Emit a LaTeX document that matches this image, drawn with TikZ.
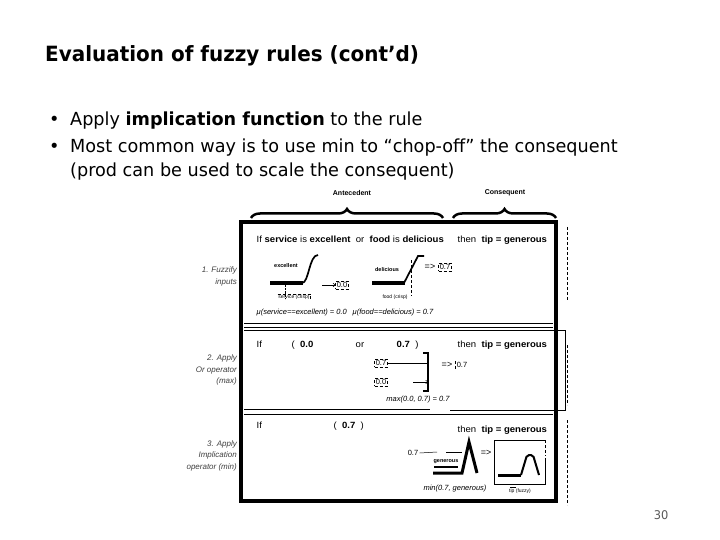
\documentclass[tikz,border=0pt]{standalone}
\usepackage{fontspec}
\setmainfont{DejaVu Sans}
\newfontfamily\slidefont{DejaVu Sans}[FakeStretch=0.95]
\newfontfamily\bulletfont{DejaVu Sans}[FakeStretch=0.98]
\newfontfamily\figfont{Liberation Sans}
\newfontfamily\figwide{Liberation Sans}[FakeStretch=1.06]
\usetikzlibrary{decorations.pathreplacing,calc,arrows.meta}
\definecolor{pagegray}{gray}{0.35}
\definecolor{sidegray}{gray}{0.25}
\tikzset{
  titletext/.style={font=\slidefont\bfseries\fontsize{21}{24}\selectfont, anchor=base west, inner sep=0pt},
  slidetext/.style={font=\bulletfont\fontsize{18}{20}\selectfont, anchor=base west, inner sep=0pt},
  fig/.style={font=\figfont\fontsize{9}{10}\selectfont, inner sep=0.5pt},
  figrule/.style={font=\figwide\fontsize{9}{10}\selectfont, inner sep=0.5pt, anchor=base west},
  figit/.style={font=\figfont\itshape\fontsize{7.5}{8}\selectfont, inner sep=0.5pt},
  figsmall/.style={font=\figfont\fontsize{5}{5}\selectfont, inner sep=0.5pt},
  figsmallb/.style={font=\figfont\bfseries\fontsize{5.5}{6}\selectfont, inner sep=0.5pt},
  sidelabel/.style={font=\figfont\itshape\fontsize{8}{11.5}\selectfont, align=right, anchor=north east, inner sep=0pt, text=sidegray},
  dbox/.style={font=\figfont\fontsize{7.5}{8}\selectfont, draw, densely dashed, line width=0.4pt, inner sep=1.2pt},
  frameline/.style={line width=3.5pt},
  rowline/.style={line width=0.6pt},
  mfline/.style={line width=3pt, line join=round},
  mfbar/.style={fill=black},
  bracestyle/.style={decorate, decoration={brace, amplitude=9pt}, line width=2.5pt},
  bracelabel/.style={font=\figfont\bfseries\fontsize{7}{8}\selectfont, inner sep=0pt},
  arr/.style={-{To[length=2.5pt,width=4pt]}, line width=0.5pt},
}
\begin{document}
\begin{tikzpicture}[x=1pt,y=-1pt]
\useasboundingbox[fill=white] (0,0) rectangle (720,540);

% ---- slide text ----
\node[titletext] (title) at (45,62) {Evaluation of fuzzy rules (cont’d)};
\node[slidetext] (bul1) at (49,126) {•};
\node[slidetext] (line1) at (70,126) {Apply {\bfseries implication function} to the rule};
\node[slidetext] (bul2) at (49,153) {•};
\node[slidetext] (line2) at (70,153) {Most common way is to use min to “chop-off” the consequent};
\node[slidetext] (line3) at (70,177) {(prod can be used to scale the consequent)};
\node[font=\slidefont\fontsize{12}{14}\selectfont, text=pagegray] (pageno) at (661,515) {30};

% ---- braces ----
\coordinate (antL) at (251,218);
\coordinate (antR) at (443,218);
\coordinate (conL) at (453,218);
\coordinate (conR) at (556,218);
\draw[bracestyle] (antL) -- (antR);
\draw[bracestyle] (conL) -- (conR);
\node[bracelabel] (antlab) at (352,193) {Antecedent};
\node[bracelabel] (conlab) at (505,193) {Consequent};

% ---- frame ----
\draw[frameline] (241,222) rectangle (556,501);
\draw[rowline] (244,323) -- (553,323);
\draw[rowline] (244,327) -- (553,327);
\draw[line width=0.5pt] (244,330) -- (565,330) -- (565,410) -- (450,410);
\draw[rowline] (244,409) -- (430,409);
\draw[rowline] (244,414) -- (553,414);
\draw[densely dashed, line width=0.5pt] (567,227) -- (567,300);
\draw[densely dashed, line width=0.5pt] (567,345) -- (567,405);
\draw[densely dashed, line width=0.5pt] (567,420) -- (567,505);

% ---- side labels ----
\node[sidelabel] (side1) at (237,267) {1. Fuzzify\\inputs};
\node[sidelabel] (side2) at (237,355) {2. Apply\\Or operator\\(max)};
\node[sidelabel] (side3) at (237,440) {3. Apply\\Implication\\operator (min)};

% ---- row 1 ----
\node[figrule] (r1ant) at (256,242) {If {\bfseries service} is {\bfseries excellent}\ \ or\ \ {\bfseries food} is {\bfseries delicious}};
\node[figrule] (r1con) at (457,242) {then\ \ {\bfseries tip = generous}};

% excellent membership function
\fill[mfbar] (270,281.2) rectangle (303,284.8);
\draw[line width=1.7pt] (302,283) .. controls (309,283) and (309,255) .. (318,255);
\node[figsmallb] (exlab) at (286,266) {excellent};
\coordinate (svA) at (285,285);
\coordinate (svB) at (285,299);
\draw[densely dotted, line width=0.4pt] (svA) -- (svB);
\node[figsmall] (svc) at (294,297) {service (crisp)};
\draw[densely dashed, line width=0.4pt] (svc.north west) -- (svc.north east) -- (svc.south east);
\node[dbox] (mex) at (342,285) {0.0};
\coordinate (arrex) at (322,285);
\draw[arr] (arrex) -- (mex.west);
\node[figit, anchor=base west] (mu1) at (256,314) {μ(service==excellent) = 0.0};

% delicious membership function
\fill[mfbar] (372,281.2) rectangle (405,284.8);
\draw[line width=1.7pt] (404,283) -- (418,256) -- (424,256);
\node[figsmallb] (delab) at (387,270) {delicious};
\coordinate (fdA) at (411,260);
\coordinate (fdB) at (411,296);
\draw[densely dashed, line width=0.4pt] (fdA) -- (fdB);
\node[figsmall] (food) at (395,297) {food (crisp)};
\node[fig] (impl1) at (430,267) {=>};
\node[dbox] (mde) at (445,267) {0.7};
\node[figit, anchor=base west] (mu2) at (352,314) {μ(food==delicious) = 0.7};

% ---- row 2 ----
\node[figrule] (r2if) at (256,347) {If};
\node[figrule] (r2a) at (291,347) {(\ \ {\bfseries 0.0}};
\node[figrule] (r2or) at (355,347) {or};
\node[figrule] (r2b) at (396,347) {{\bfseries 0.7}\ \ )};
\node[figrule] (r2con) at (457,347) {then\ \ {\bfseries tip = generous}};
\node[dbox] (v07) at (381,363) {0.7};
\node[dbox] (v00) at (381,382) {0.0};
\coordinate (brT) at (428,353);
\coordinate (brB) at (428,391);
\draw[line width=2.6pt] ($(brT)+(-5,0)$) -- (brT) -- (brB) -- ($(brB)+(-5,0)$);
\draw[line width=0.6pt] (v07.east) -- (v07.east -| brT);
\coordinate (arr2) at (413,382);
\draw[arr] (arr2) -- (v00.east -| brT);
\node[fig] (impl2) at (447,365) {=>};
\node[dbox, draw=none] (out2) at (462,365) {0.7};
\draw[densely dashed, line width=0.4pt] (out2.north west) -- (out2.south west);
\node[figit] (maxt) at (418,400) {max(0.0, 0.7) = 0.7};

% ---- row 3 ----
\node[figrule] (r3if) at (256,428) {If};
\node[figrule] (r3a) at (333,428) {(\ \ {\bfseries 0.7}\ \ )};
\node[figrule] (r3con) at (457,432) {then\ \ {\bfseries tip = generous}};
\node[dbox, draw=none] (lev) at (413,453) {0.7};
\coordinate (levA) at (437,452);
\coordinate (levB) at (446,452);
\coordinate (levC) at (462,452);
\draw[line width=0.5pt] (lev.east) -- (levA);
\draw[line width=0.5pt] (levB) -- (levC);
\draw[mfline, line join=miter] (433,473) -- (462,473) -- (469,442) -- (477,473);
\node[figsmallb] (gen) at (446,462) {generous};
\draw[line width=1.6pt] (434,467) -- (458,467);
\node[fig] (impl3) at (486,453) {=>};
\coordinate (bxA) at (494,440);
\coordinate (bxB) at (545,484);
\draw[line width=0.6pt] (bxB |- bxA) -- (bxA) -- (bxA |- bxB) -- (bxB) -- ($(bxB |- bxA)+(0,18)$);
\draw[densely dashed, line width=0.4pt] (bxB |- bxA) -- ($(bxB |- bxA)+(0,16)$);
\draw[mfline] (498,475) -- (521,475);
\draw[line width=2pt, rounded corners=2pt] (521,475) -- (527,455) -- (533,455) -- (539,475);
\node[figit] (mint) at (455,489) {min(0.7, generous)};
\node[figsmall] (tipf) at (520,491) {tip (fuzzy)};
\draw[line width=0.4pt] ($(tipf.north west)+(2,-1)$) -- ($(tipf.north)+(-4,-1)$);
\end{tikzpicture}
\end{document}
